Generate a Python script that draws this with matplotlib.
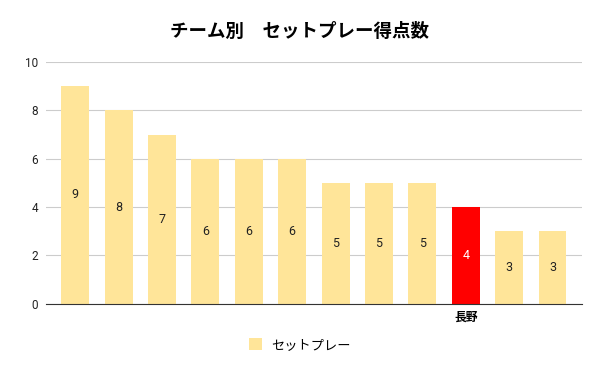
import matplotlib.pyplot as plt
from matplotlib.patches import Patch

plt.rcParams['font.family'] = ['Noto Sans CJK JP', 'DejaVu Sans']

# data
teams = ['', '', '', '', '', '', '', '', '', '長野', '', '']
setplay_goals = [9, 8, 7, 6, 6, 6, 5, 5, 5, 4, 3, 3]
highlight = '長野'

base_color = '#FFE599'
hl_color = '#FF0000'

fig = plt.figure(figsize=(6, 3.71), dpi=100)
ax = fig.add_axes([0.077, 0.181, 0.893, 0.652])

colors = [hl_color if t == highlight else base_color for t in teams]
x = range(len(teams))
bars = ax.bar(x, setplay_goals, width=0.645, color=colors, zorder=3)

for i, b in enumerate(bars):
    txt_color = 'white' if teams[i] == highlight else '#222222'
    ax.text(b.get_x() + b.get_width() / 2, b.get_height() / 2, str(setplay_goals[i]),
            ha='center', va='center', fontsize=9, color=txt_color, zorder=4,
            family=['Roboto', 'DejaVu Sans'])

ax.set_xlim(-0.67, len(teams) - 0.32)
ax.set_ylim(0, 10)
ax.set_yticks([0, 2, 4, 6, 8, 10])
ax.set_yticklabels(['0', '2', '4', '6', '8', '10'], family=['Roboto', 'DejaVu Sans'], fontsize=8.5)
ax.set_xticks(list(x))
ax.set_xticklabels(teams, fontsize=8.5, fontweight='bold')
ax.tick_params(axis='both', length=0)
ax.tick_params(axis='x', pad=5)
ax.tick_params(axis='y', pad=6, labelcolor='#222222')
ax.grid(axis='y', color='#cccccc', linewidth=0.8, zorder=0)
for s in ['top', 'right', 'left']:
    ax.spines[s].set_visible(False)
ax.spines['bottom'].set_color('#333333')
ax.spines['bottom'].set_zorder(5)

fig.suptitle('チーム別　セットプレー得点数', x=0.5, y=0.94, fontsize=13.3, fontweight='bold')

handles = [Patch(facecolor=base_color, edgecolor='none', label='セットプレー')]
fig.legend(handles=handles, loc='center', bbox_to_anchor=(0.5, 0.07), frameon=False,
           fontsize=9.5, handlelength=1.0, handleheight=1.0, handletextpad=0.7)

fig.savefig('out.png', dpi=100)
